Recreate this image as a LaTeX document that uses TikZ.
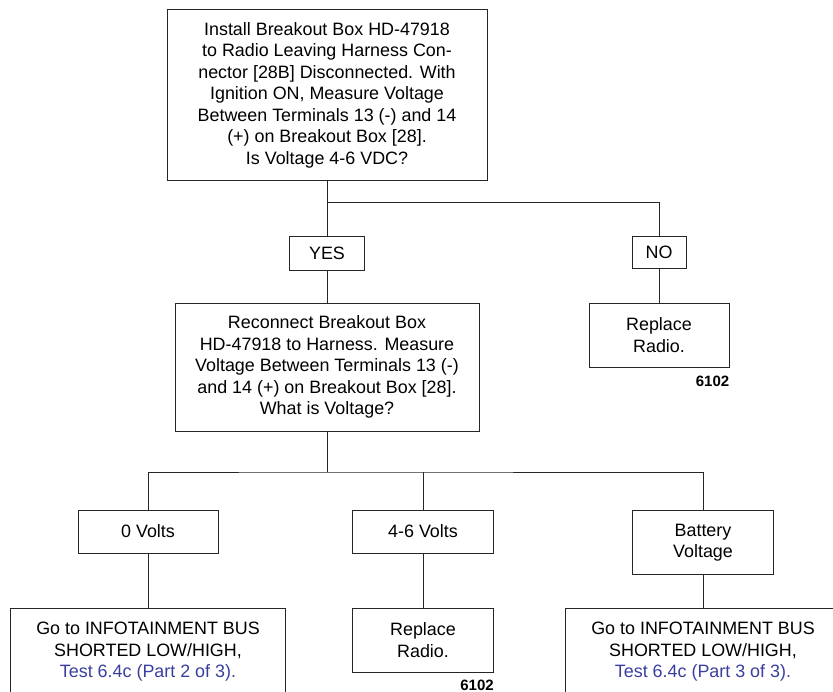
\documentclass[tikz,border=0pt]{standalone}
\usepackage{fontspec}
\setmainfont{Liberation Sans}
\usetikzlibrary{positioning}
\definecolor{linkblue}{RGB}{58,62,158}

\begin{document}
\begin{tikzpicture}[
  x=1pt, y=-1pt,
  box/.style={draw=black!85, line width=0.9pt, align=center, inner sep=0pt,
              font=\fontsize{17.9}{21.5}\selectfont},
  ans/.style={box, minimum height=34pt},
  code/.style={font=\fontsize{15}{16}\selectfont\bfseries, inner sep=0pt},
  link/.style={draw=black!85, line width=0.9pt}
]
\useasboundingbox (0,0) rectangle (833,692);
\clip (0,0) rectangle (833,692);
\node[box, minimum width=320pt, minimum height=171pt] (check) at (327,95)
  {Install Breakout Box HD-47918\\to Radio Leaving Harness Con-\\nector [28B] Disconnected. With\\
   Ignition ON, Measure Voltage\\Between Terminals 13 (-) and 14\\(+) on Breakout Box [28].\\
   Is Voltage 4-6 VDC?};
\node[ans, minimum width=75pt] (yes) at (327,253) {YES};
\node[ans, minimum width=54pt, minimum height=32pt] (no) at (659,252) {NO};
\node[box, minimum width=304pt, minimum height=128pt] (measure) at (327,367)
  {Reconnect Breakout Box\\HD-47918 to Harness. Measure\\Voltage Between Terminals 13 (-)\\
   and 14 (+) on Breakout Box [28].\\What is Voltage?};
\node[box, minimum width=140pt, minimum height=64pt] (replA) at (659,335) {Replace\\Radio.};
\node[code, below left=8.5pt and 0pt of replA.south east] (codeA) {6102};
\node[box, minimum width=140pt, minimum height=43pt] (zero) at (148,531.5) {0 Volts};
\node[box, minimum width=141pt, minimum height=43pt] (fourSix) at (423,531.5) {4-6 Volts};
\node[box, minimum width=141pt, minimum height=64pt] (batt) at (703,542.5) {Battery\\Voltage};
\node[box, minimum width=275pt, minimum height=88pt] (busLow) at (148,652)
  {Go to INFOTAINMENT BUS\\SHORTED LOW/HIGH,\\\textcolor{linkblue}{Test 6.4c (Part 2 of 3).}};
\node[box, minimum width=141pt, minimum height=64pt] (replB) at (423,640) {Replace\\Radio.};
\node[code, below left=7pt and 0pt of replB.south east] (codeB) {6102};
\node[box, minimum width=276pt, minimum height=88pt] (busHigh) at (703,652)
  {Go to INFOTAINMENT BUS\\SHORTED LOW/HIGH,\\\textcolor{linkblue}{Test 6.4c (Part 3 of 3).}};
% connectors
\coordinate (fork) at (327,202);
\coordinate (spread) at (327,472);
\draw[link] (check) -- (yes);
\draw[link] (fork) -| (no);
\draw[link] (yes) -- (measure);
\draw[link] (no) -- (replA);
\draw[link] (measure) -- (spread);
\draw[link] (zero) |- (spread) -| (batt);
\draw[link] (fourSix) -- (fourSix |- spread);
\draw[link] (zero) -- (busLow);
\draw[link] (fourSix) -- (replB);
\draw[link] (batt) -- (busHigh);
\end{tikzpicture}
\end{document}
